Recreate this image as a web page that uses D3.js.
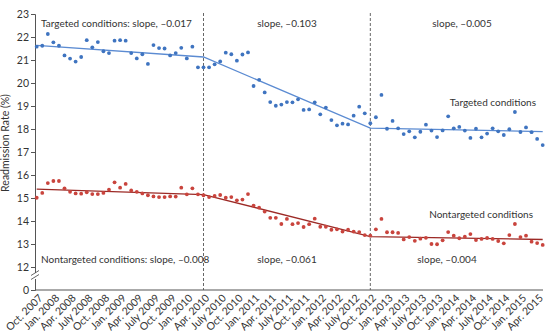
<!DOCTYPE html>
<html>
<head>
<meta charset="utf-8">
<script src="https://cdn.jsdelivr.net/npm/d3@7"></script>
<style>
  body { margin: 0; background: #fff; }
  svg text { font-family: Lato, "Open Sans", sans-serif; fill: #333; }
</style>
</head>
<body>
<svg id="chart" width="555" height="335"></svg>
<script>
// monthly readmission rates, Oct 2007 .. May 2015
var targeted = [
  21.58, 21.62, 22.13, 21.77, 21.62, 21.20, 21.06, 20.93, 21.13, 21.86,
  21.55, 21.78, 21.38, 21.30, 21.84, 21.86, 21.84, 21.30, 21.07, 21.25,
  20.83, 21.65, 21.52, 21.50, 21.20, 21.30, 21.53, 21.07, 21.58, 20.68,
  20.68, 20.68, 20.81, 20.94, 21.32, 21.25, 20.97, 21.24, 21.33, 19.87,
  20.14, 19.59, 19.17, 19.01, 19.06, 19.17, 19.16, 19.29, 18.83, 18.85,
  19.16, 18.64, 18.93, 18.39, 18.16, 18.23, 18.20, 18.58, 18.97, 18.68,
  18.25, 18.51, 19.48, 18.01, 18.35, 18.03, 17.78, 17.90, 17.64, 17.88,
  18.19, 17.93, 17.65, 17.94, 18.55, 18.03, 18.09, 17.93, 17.61, 18.01,
  17.64, 17.80, 18.03, 17.90, 17.74, 17.99, 18.74, 17.87, 18.07, 17.86,
  17.57, 17.30
];
var nontargeted = [
  15.01, 15.22, 15.65, 15.74, 15.74, 15.42, 15.27, 15.20, 15.19, 15.25,
  15.17, 15.17, 15.22, 15.36, 15.68, 15.45, 15.61, 15.33, 15.27, 15.20,
  15.12, 15.07, 15.04, 15.04, 15.07, 15.06, 15.45, 15.16, 15.42, 15.16,
  15.12, 15.04, 15.09, 15.13, 15.01, 15.04, 14.90, 14.93, 15.17, 14.67,
  14.58, 14.41, 14.14, 14.14, 13.87, 14.09, 13.86, 13.91, 13.74, 13.86,
  14.10, 13.75, 13.75, 13.62, 13.64, 13.54, 13.62, 13.54, 13.52, 13.39,
  13.36, 13.64, 14.09, 13.51, 13.51, 13.48, 13.20, 13.30, 13.14, 13.23,
  13.27, 13.00, 12.99, 13.16, 13.52, 13.36, 13.25, 13.32, 13.43, 13.17,
  13.22, 13.26, 13.22, 13.13, 13.03, 13.39, 13.87, 13.30, 13.36, 13.10,
  13.04, 12.96
];

// fitted segments: start level, then monthly slope per period
var breaks = [0, 30, 60, 91];       // month index of Oct 2007, Apr 2010, Oct 2012, May 2015
var targetedStart = 21.64;
var targetedSlopes = [-0.017, -0.103, -0.005];
var nontargetedStart = 15.39;
var nontargetedSlopes = [-0.008, -0.061, -0.004];

var tickLabels = [
  "Oct. 2007", "Jan. 2008", "Apr. 2008", "July 2008", "Oct. 2008", "Jan. 2009",
  "Apr. 2009", "July 2009", "Oct. 2009", "Jan. 2010", "Apr. 2010", "July 2010",
  "Oct. 2010", "Jan. 2011", "Apr. 2011", "July 2011", "Oct. 2011", "Jan. 2012",
  "Apr. 2012", "July 2012", "Oct. 2012", "Jan. 2013", "Apr. 2013", "July 2013",
  "Oct. 2013", "Jan. 2014", "Apr. 2014", "July 2014", "Oct. 2014", "Jan. 2015",
  "Apr. 2015"
];
var yTicks = [11, 12, 13, 14, 15, 16, 17, 18, 19, 20, 21, 22, 23]; // 11 is drawn as the broken "0"

var colors = {
  targetedDot: "#3f74c0", targetedLine: "#5b8bd2",
  nontargetedDot: "#c9443d", nontargetedLine: "#9c2a26"
};

var svg = d3.select("#chart");
var x = d3.scaleLinear().domain([0, 91]).range([36.7, 542.7]);
var y = d3.scaleLinear().domain([11, 23]).range([290, 14]);

function trendPoints(start, slopes) {
  var pts = [[breaks[0], start]];
  var v = start;
  slopes.forEach(function (s, k) {
    v += s * (breaks[k + 1] - breaks[k]);
    pts.push([breaks[k + 1], v]);
  });
  return pts;
}

// y axis
var yAxis = svg.append("g")
  .attr("transform", "translate(35,0)")
  .call(d3.axisLeft(y).tickValues(yTicks).tickSize(4).tickPadding(2)
    .tickFormat(function (d) { return d === 11 ? "0" : d; }));
yAxis.select(".domain").attr("stroke", "#555");
yAxis.selectAll(".tick line").attr("stroke", "#555");
yAxis.selectAll(".tick text").attr("font-size", 10.5).style("fill", "#333");

// axis break
svg.append("rect").attr("x", 32).attr("y", 273).attr("width", 6).attr("height", 6).attr("fill", "#fff");
[271.5, 275.5].forEach(function (yy) {
  svg.append("line").attr("x1", 31).attr("x2", 39).attr("y1", yy + 4).attr("y2", yy - 1)
    .attr("stroke", "#555").attr("stroke-width", 0.9);
});

svg.append("text")
  .attr("transform", "translate(9,143) rotate(-90)")
  .attr("text-anchor", "middle")
  .attr("font-size", 10.5)
  .text("Readmission Rate (%)");

// x axis
svg.append("line").attr("x1", 35).attr("x2", 543).attr("y1", 290).attr("y2", 290)
  .attr("stroke", "#555");
var xAxis = svg.append("g");
tickLabels.forEach(function (lab, k) {
  var m = k * 3;
  xAxis.append("text")
    .attr("transform", "translate(" + (x(m) + 4) + ",296) rotate(-45)")
    .attr("text-anchor", "end")
    .attr("dy", "0.35em")
    .attr("font-size", 10.5)
    .text(lab);
});

// period dividers
[30, 60].forEach(function (m) {
  svg.append("line").attr("x1", x(m)).attr("x2", x(m)).attr("y1", 13).attr("y2", 290)
    .attr("stroke", "#555").attr("stroke-width", 0.9).attr("stroke-dasharray", "3,2");
});

// trend lines
var line = d3.line().x(function (d) { return x(d[0]); }).y(function (d) { return y(d[1]); });
svg.append("path").datum(trendPoints(targetedStart, targetedSlopes))
  .attr("d", line).attr("fill", "none").attr("stroke", colors.targetedLine).attr("stroke-width", 1.3);
svg.append("path").datum(trendPoints(nontargetedStart, nontargetedSlopes))
  .attr("d", line).attr("fill", "none").attr("stroke", colors.nontargetedLine).attr("stroke-width", 1.3);

// monthly points
function dots(values, color) {
  svg.append("g").selectAll("circle").data(values).enter().append("circle")
    .attr("cx", function (d, i) { return x(i); })
    .attr("cy", function (d) { return y(d); })
    .attr("r", 1.9)
    .attr("fill", color);
}
dots(targeted, colors.targetedDot);
dots(nontargeted, colors.nontargetedDot);

// annotations
function label(txt, xx, yy, anchor) {
  svg.append("text").attr("x", xx).attr("y", yy).attr("text-anchor", anchor || "start")
    .attr("font-size", 10).text(txt);
}
label("Targeted conditions: slope, \u20130.017", 41, 27);
label("slope, \u20130.103", 287, 27, "middle");
label("slope, \u20130.005", 462, 27, "middle");
label("Targeted conditions", 536, 106, "end");
label("Nontargeted conditions", 533, 218, "end");
label("Nontargeted conditions: slope, \u20130.008", 41, 263);
label("slope, \u20130.061", 287, 263, "middle");
label("slope, \u20130.004", 447, 263, "middle");
</script>
</body>
</html>
